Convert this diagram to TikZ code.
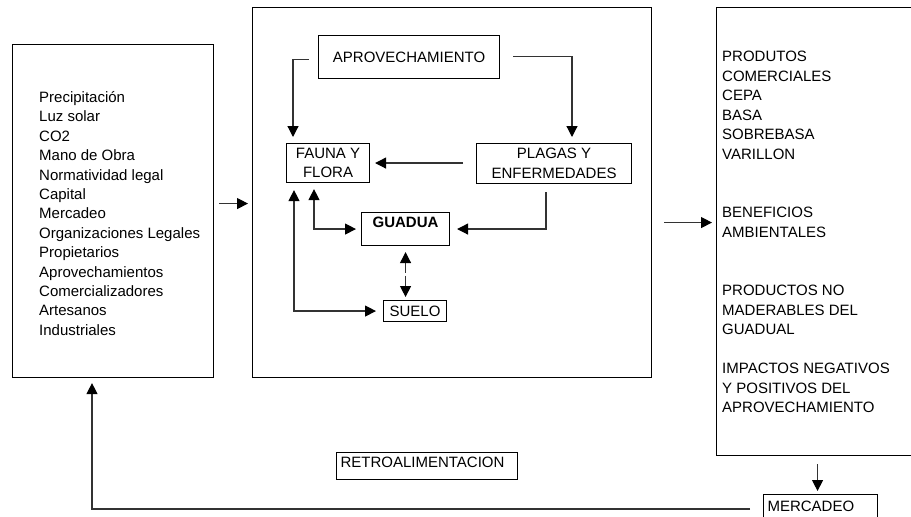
\documentclass[tikz,border=0pt]{standalone}
\usepackage{fontspec}
\setmainfont{Liberation Sans}
\usetikzlibrary{arrows.meta,calc}
\begin{document}
\begin{tikzpicture}[x=1pt,y=-1pt,
  font=\fontsize{15}{19.5}\selectfont,
  >={Triangle[length=11pt,width=11pt,color=black]},
  frame/.style={draw=black,line width=1.1pt,inner sep=0pt,anchor=north west},
  item/.style={anchor=base west,inner sep=0pt},
  box/.style={draw=black,line width=1.1pt,inner sep=2pt,align=center,anchor=north west},
  link/.style={draw=black!80,line width=1.2pt,->},
  twoway/.style={draw=black!80,line width=1.2pt,<->},
]
\useasboundingbox (0,0) rectangle (911,517);
\clip (0,0) rectangle (911,517);

% the three large frames
\node[frame,minimum width=201pt,minimum height=333pt] (left) at (12,44) {};
\node[frame,minimum width=399pt,minimum height=370pt] (mid) at (252,7) {};
\node[frame,minimum width=220pt,minimum height=448pt] (right) at (716,7) {};

% inputs
\foreach \txt [count=\i from 0] in {Precipitación, Luz solar, CO2, Mano de Obra,
  Normatividad legal, Capital, Mercadeo, Organizaciones Legales, Propietarios,
  Aprovechamientos, Comercializadores, Artesanos, Industriales}
  \node[item] (in\i) at (39,102.5+19.4*\i) {\txt};

% outputs
\foreach \k/\txt in {0/PRODUTOS, 1/COMERCIALES, 2/CEPA, 3/BASA, 4/SOBREBASA,
  5/VARILLON, 8/BENEFICIOS, 9/AMBIENTALES, 12/PRODUCTOS NO,
  13/MADERABLES DEL, 14/GUADUAL, 16/IMPACTOS NEGATIVOS, 17/Y POSITIVOS DEL,
  18/APROVECHAMIENTO}
  \node[item] (out\k) at (722,61.5+19.5*\k) {\txt};

% inner system
\node[box,minimum width=181pt,minimum height=43pt] (aprov) at (318,35) {APROVECHAMIENTO};
\node[box,minimum width=83pt,minimum height=39pt] (fauna) at (286,143) {FAUNA Y\\FLORA};
\node[box,minimum width=155pt,minimum height=40pt] (plagas) at (476,143) {PLAGAS Y\\ENFERMEDADES};
\node[box,minimum width=88pt,inner ysep=2pt,text height=13pt,text depth=16pt,
  font=\fontsize{15}{19.5}\selectfont\bfseries] (guadua) at (361,212) {GUADUA};
\node[box,minimum width=63pt,minimum height=21pt] (suelo) at (383,300) {SUELO};

% feedback labels
\node[box,align=left,text width=173pt,inner xsep=4pt,inner ysep=2pt,
  text height=13pt,text depth=10pt] (retro) at (336,452) {RETROALIMENTACION};
\node[box,align=left,text width=106pt,inner xsep=4pt,inner ysep=2pt,
  text height=15pt,text depth=20pt] (merc) at (763,494) {MERCADEO};

% main flow
\draw[link] ($(left.east)+(5,-7.5)$) -- ($(mid.west)+(-4,11)$);
\draw[link] ($(mid.east)+(12,30)$) -- ($(right.west)+(-4,-9)$);
\draw[link] ($(right.south)+(-9,8)$) -- ($(merc.north)+(-3,-3)$);
\coordinate (fb) at ($(merc.north west)+(-13,15)$);
\draw[link] (fb) -| ($(left.south west)+(80,5)$);

% relations inside the system
\draw[link] ($(aprov.west)+(-9,2.5)$) -| ($(fauna.north west)+(7,-6)$);
\draw[link] ($(aprov.east)+(13,-0.5)$) -| ($(plagas.north west)+(96,-6)$);
\draw[link] ($(plagas.west)+(-13,-0.5)$) -- ($(fauna.east)+(5,0)$);
\draw[link] ($(plagas.south west)+(70,8)$) |- ($(guadua.east)+(7,0)$);
\draw[twoway] ($(fauna.south west)+(28,6)$) |- ($(guadua.west)+(-5,0)$);
\draw[twoway] ($(fauna.south west)+(8,7)$) |- ($(suelo.west)+(-7,0)$);
\coordinate (gs) at ($(guadua.south)+(0,28)$);
\draw[link] ($(gs)+(0,-1.5)$) -- ($(guadua.south)+(0,6)$);
\draw[link] ($(gs)+(0,1.5)$) -- ($(guadua.south |- suelo.north)+(0,-3)$);
\end{tikzpicture}
\end{document}
